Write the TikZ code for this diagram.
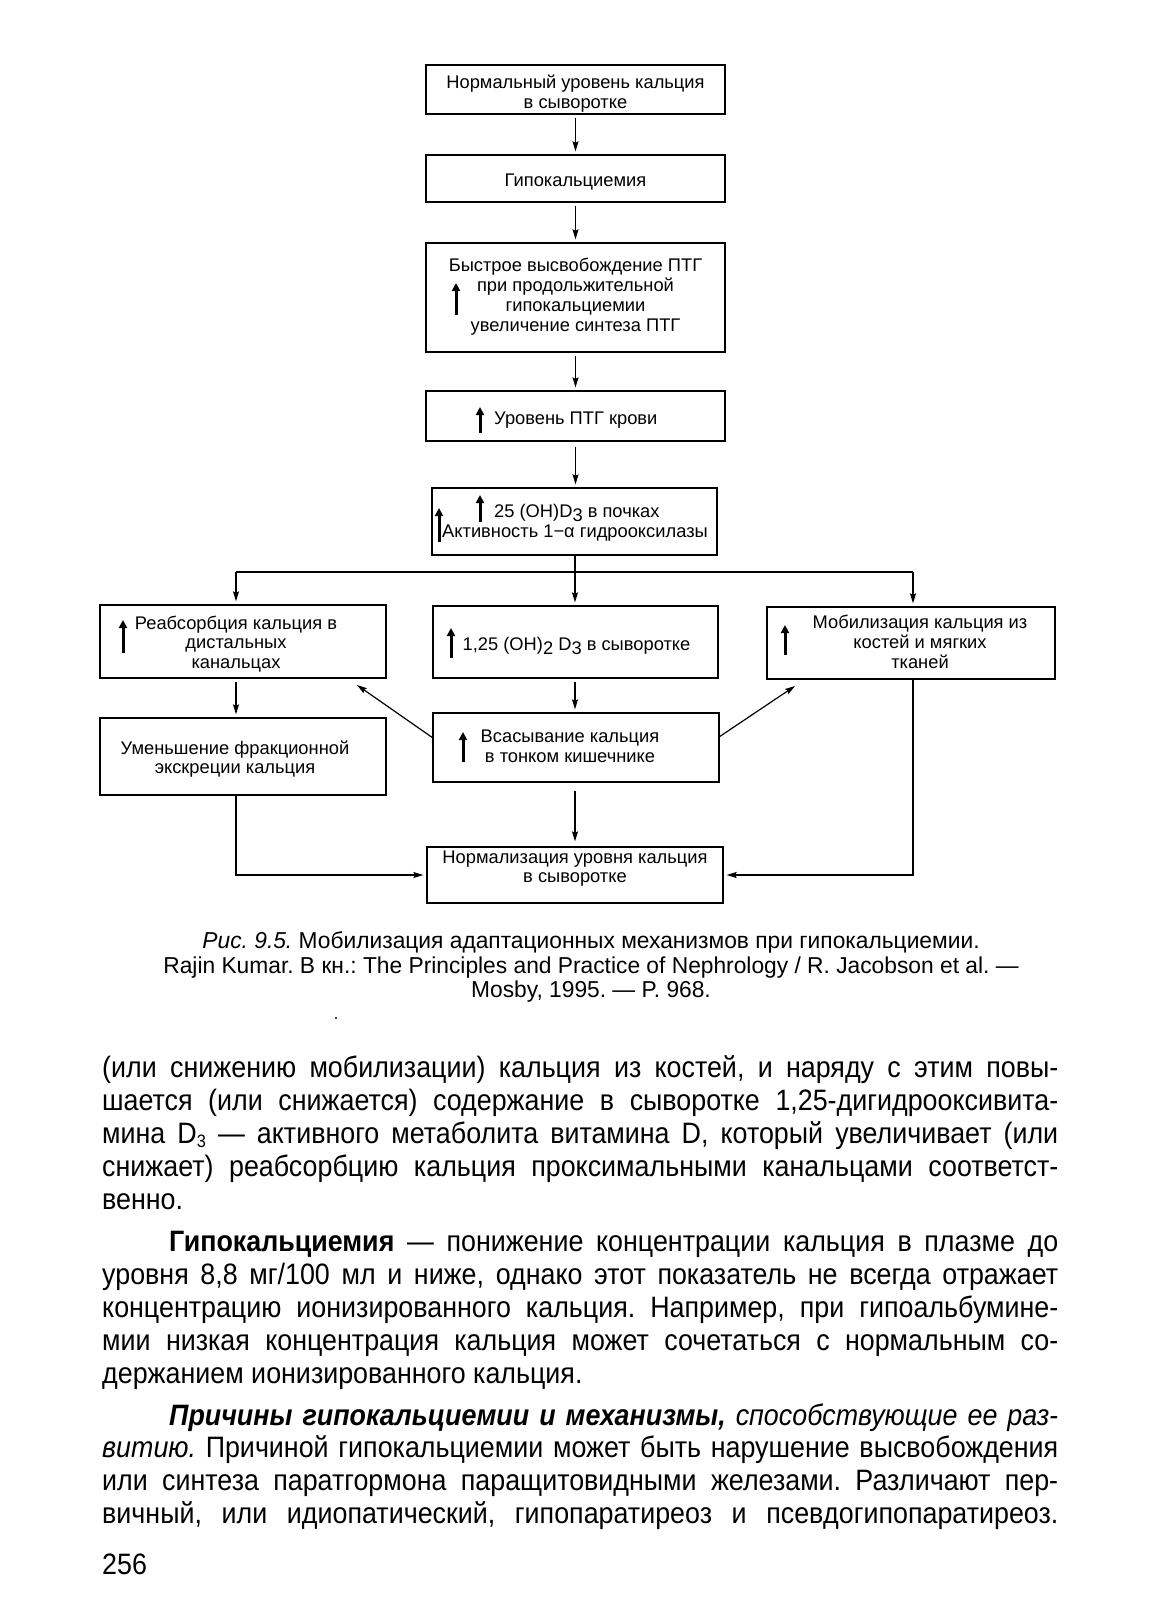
\documentclass[tikz,border=0pt]{standalone}
\usepackage{fontspec}
\setmainfont{Liberation Sans}
\newfontfamily\capfont[FakeStretch=0.99]{Liberation Sans}
\newfontfamily\bodyfont[FakeStretch=0.91]{Liberation Sans}
\usetikzlibrary{arrows.meta}
\frenchspacing
\newcommand{\lowsub}[1]{\raisebox{-0.45ex}{#1}}
\newcommand{\bsub}[1]{\raisebox{-0.3ex}{\fontsize{18}{18}\selectfont #1}}
\newcommand{\jline}[2]{\makebox[#1][s]{#2}}
\tikzset{
  box/.style={draw, line width=1.3pt, inner sep=0pt},
  btx/.style={inner sep=0pt, align=center, font=\fontsize{18.3}{19.8}\selectfont},
  conn/.style={line width=1.2pt, -{Stealth[length=10pt,width=6pt,inset=1.5pt]},
    shorten >=3pt},
  plain/.style={line width=1.2pt},
  uparr/.style={line width=3pt, -{Triangle[length=8pt,width=8pt]}},
  btxt/.style={anchor=base west, inner sep=0pt, font=\fontsize{18.3}{19.8}\selectfont},
  bodyl/.style={anchor=base west, inner sep=0pt, font=\bodyfont\fontsize{29.5}{33}\selectfont},
  capl/.style={anchor=base, inner sep=0pt, font=\capfont\fontsize{23}{25}\selectfont},
}
\begin{document}
\begin{tikzpicture}[x=1pt,y=-1pt]
\useasboundingbox[fill=white] (0,0) rectangle (1167,1600);
% boxes
\node[box, minimum width=299pt, minimum height=49pt] (b1) at (575.5,89.5) {};
\node[btx, yshift=-4pt] (b1t) at (b1) {Нормальный уровень кальция\\в сыворотке};
\node[box, minimum width=299pt, minimum height=47pt] (b2) at (575.5,178.5) {};
\node[btx, yshift=-4pt] (b2t) at (b2) {Гипокальциемия};
\node[box, minimum width=299pt, minimum height=109pt] (b3) at (575.5,297.5) {};
\node[btx, yshift=1pt] (b3t) at (b3) {Быстрое высвобождение ПТГ\\при продольжительной\\гипокальциемии\\увеличение синтеза ПТГ};
\node[box, minimum width=299pt, minimum height=50pt] (b4) at (575.5,416) {};
\node[btx, anchor=west, yshift=-4pt] (b4t) at (494,416) {Уровень ПТГ крови};
\node[box, minimum width=285pt, minimum height=67pt] (b5) at (574.5,521.5) {};
\node[btxt] (b5a) at (494,517) {25 (OH)D\lowsub{3} в почках};
\node[btxt] (b5b) at (442,537.5) {Активность 1−α гидрооксилазы};
\node[box, minimum width=286pt, minimum height=73pt] (l1) at (243,641.5) {};
\node[btx, xshift=-7pt, yshift=-2.5pt] (l1t) at (l1) {Реабсорбция кальция в\\дистальных\\канальцах};
\node[box, minimum width=285pt, minimum height=72pt] (c1) at (575.5,642) {};
\node[btx, xshift=1pt, yshift=-4pt] (c1t) at (c1) {1,25 (OH)\lowsub{2} D\lowsub{3} в сыворотке};
\node[box, minimum width=288pt, minimum height=72pt] (r1) at (911,643) {};
\node[btx, xshift=9pt, yshift=1pt] (r1t) at (r1) {Мобилизация кальция из\\костей и мягких\\тканей};
\node[box, minimum width=286pt, minimum height=77pt] (l2) at (243,756.5) {};
\node[btx, xshift=-8pt, yshift=-2.5pt] (l2t) at (l2) {Уменьшение фракционной\\экскреции кальция};
\node[box, minimum width=286pt, minimum height=69pt] (c2) at (576,747.5) {};
\node[btx, xshift=-6pt, yshift=1.5pt] (c2t) at (c2) {Всасывание кальция\\в тонком кишечнике};
\node[box, minimum width=296pt, minimum height=56pt] (c3) at (575,875) {};
\node[btx, yshift=6.5pt] (c3t) at (c3) {Нормализация уровня кальция\\в сыворотке};
% inner up arrows
\draw[uparr] (456,315) -- (456,283);
\draw[uparr] (480,433) -- (480,407);
\draw[uparr] (480,522) -- (480,495);
\draw[uparr] (439,542) -- (439,508);
\draw[uparr] (123,653) -- (123,620);
\draw[uparr] (451,658) -- (451,628);
\draw[uparr] (785,655) -- (785,625);
\draw[uparr] (463,762) -- (463,732);
% vertical connectors
\draw[conn, shorten <=3pt] (b1) -- (b2);
\draw[conn, shorten <=3pt] (b2) -- (b3);
\draw[conn, shorten <=3pt] (b3) -- (b4);
\draw[conn, shorten <=5pt] (b4) -- (b5.north -| b4.south);
% branch
\coordinate (j) at (575,572);
\coordinate (jl) at (236,572);
\coordinate (jr) at (913,572);
\draw[plain] (b5.south -| j) -- (j);
\draw[plain] (jl) -- (jr);
\draw[conn] (jl) -- (jl |- l1.north);
\draw[conn] (j) -- (j |- c1.north);
\draw[conn] (jr) -- (jr |- r1.north);
\draw[conn, shorten <=3pt] (l1.south -| jl) -- (l2.north -| jl);
\draw[conn, shorten <=3pt] (c1.south -| j) -- (c2.north -| j);
\draw[conn, shorten <=8pt, shorten >=5pt] (c2.south -| j) -- (c3.north -| j);
% diagonals
\coordinate (dlt) at (433,738);
\coordinate (dlh) at (357,685);
\coordinate (drt) at (719,737);
\coordinate (drh) at (795,686);
\draw[conn, shorten >=0pt] (dlt) -- (dlh);
\draw[conn, shorten >=0pt] (drt) -- (drh);
% to normalisation
\draw[conn] (l2.south -| jl) |- (c3.west);
\draw[conn] (r1.south -| jr) |- (c3.east);
% caption
\node[capl] (cap1) at (591,948) {\textit{Рис. 9.5.} Мобилизация адаптационных механизмов при гипокальциемии.};
\node[capl] (cap2) at (591,973) {Rajin Kumar. В кн.: The Principles and Practice of Nephrology / R. Jacobson et al. —};
\node[capl] (cap3) at (591,997) {Mosby, 1995. — P. 968.};
\fill (336,1018) circle (1.2pt);
% body text
\node[bodyl] (t1) at (102,1077) {\jline{956pt}{(или снижению мобилизации) кальция из костей, и наряду с этим повы-}};
\node[bodyl] (t2) at (102,1110) {\jline{956pt}{шается (или снижается) содержание в сыворотке 1,25-дигидрооксивита-}};
\node[bodyl] (t3) at (102,1143) {\jline{956pt}{мина D\bsub{3} — активного метаболита витамина D, который увеличивает (или}};
\node[bodyl] (t4) at (102,1176) {\jline{956pt}{снижает) реабсорбцию кальция проксимальными канальцами соответст-}};
\node[bodyl] (t5) at (102,1209) {венно.};
\node[bodyl] (t6) at (169,1251) {\jline{889pt}{\textbf{Гипокальциемия} — понижение концентрации кальция в плазме до}};
\node[bodyl] (t7) at (102,1284) {\jline{956pt}{уровня 8,8 мг/100 мл и ниже, однако этот показатель не всегда отражает}};
\node[bodyl] (t8) at (102,1317) {\jline{956pt}{концентрацию ионизированного кальция. Например, при гипоальбумине-}};
\node[bodyl] (t9) at (102,1350) {\jline{956pt}{мии низкая концентрация кальция может сочетаться с нормальным со-}};
\node[bodyl] (t10) at (102,1383) {держанием ионизированного кальция.};
\node[bodyl] (t11) at (169,1425) {\jline{889pt}{\textbf{\textit{Причины гипокальциемии и механизмы,}} \textit{способствующие ее раз-}}};
\node[bodyl] (t12) at (102,1457) {\jline{956pt}{\textit{витию.} Причиной гипокальциемии может быть нарушение высвобождения}};
\node[bodyl] (t13) at (102,1490) {\jline{956pt}{или синтеза паратгормона паращитовидными железами. Различают пер-}};
\node[bodyl] (t14) at (102,1523) {\jline{956pt}{вичный, или идиопатический, гипопаратиреоз и псевдогипопаратиреоз.}};
\node[bodyl] (pg) at (102,1574) {256};
\end{tikzpicture}
\end{document}
